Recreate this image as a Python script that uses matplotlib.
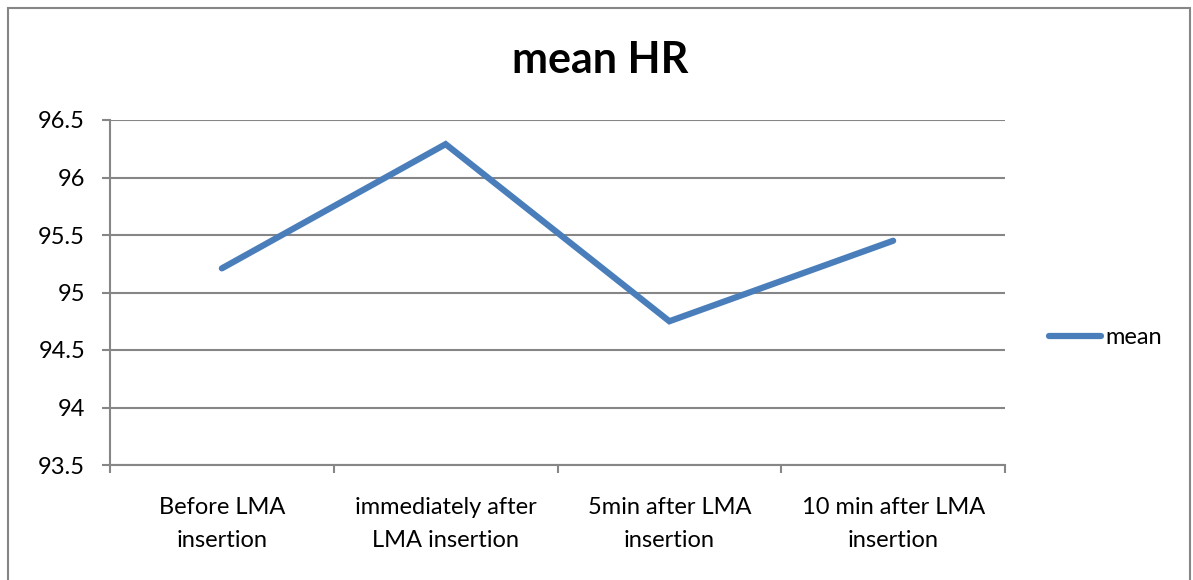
import matplotlib.pyplot as plt
from matplotlib.patches import Rectangle
import numpy as np

# data
categories = ["Before LMA\ninsertion", "immediately after\nLMA insertion",
              "5min after LMA\ninsertion", "10 min after LMA\ninsertion"]
mean_hr = [95.21, 96.29, 94.75, 95.45]
y_ticks = [93.5, 94, 94.5, 95, 95.5, 96, 96.5]

plt.rcParams['font.family'] = ['Lato', 'DejaVu Sans']

W, H = 1193, 580
fig = plt.figure(figsize=(W / 100, H / 100), dpi=100)

# outer chart frame
fig.patches.append(Rectangle((8 / W, -0.05), (1190 - 8) / W, 1 - 8 / H + 0.05,
                             transform=fig.transFigure, fill=False,
                             edgecolor='#868686', linewidth=1.5))

left, right, top, bottom = 110, 1005, 120, 465
ax = fig.add_axes([left / W, 1 - bottom / H, (right - left) / W, (bottom - top) / H])

x = np.arange(1, len(categories) + 1)
line, = ax.plot(x, mean_hr, color='#4A7EBB', linewidth=4.5,
                solid_joinstyle='miter', solid_capstyle='round', label='mean')

ax.set_xlim(0.5, len(categories) + 0.5)
ax.set_ylim(93.5, 96.5)
ax.set_yticks(y_ticks)
ax.set_yticklabels([f"{v:g}" for v in y_ticks], fontsize=17)
ax.yaxis.grid(True, color='#868686', linewidth=1.5)
ax.set_axisbelow(True)

ax.set_xticks(x)
ax.set_xticklabels(categories, fontsize=17, linespacing=1.72)
ax.set_xticks(np.arange(0.5, len(categories) + 1), minor=True)
ax.tick_params(axis='x', which='major', length=0, pad=23)
ax.tick_params(axis='x', which='minor', length=6, width=1.5, color='#868686', direction='out')
ax.tick_params(axis='y', length=6, width=1.5, color='#868686', pad=12)

for s in ['top', 'right']:
    ax.spines[s].set_visible(False)
for s in ['left', 'bottom']:
    ax.spines[s].set_color('#868686')
    ax.spines[s].set_linewidth(1.5)

fig.text(600 / W, 1 - 60 / H, "mean HR", ha='center', va='center',
         fontsize=31, fontweight='bold')

fig.legend(handles=[line], loc='center left', bbox_to_anchor=(1040 / W, 1 - 338 / H),
           frameon=False, fontsize=17, handlelength=2.2, handletextpad=0.15,
           borderaxespad=0)

fig.savefig("out.png", dpi=100)
